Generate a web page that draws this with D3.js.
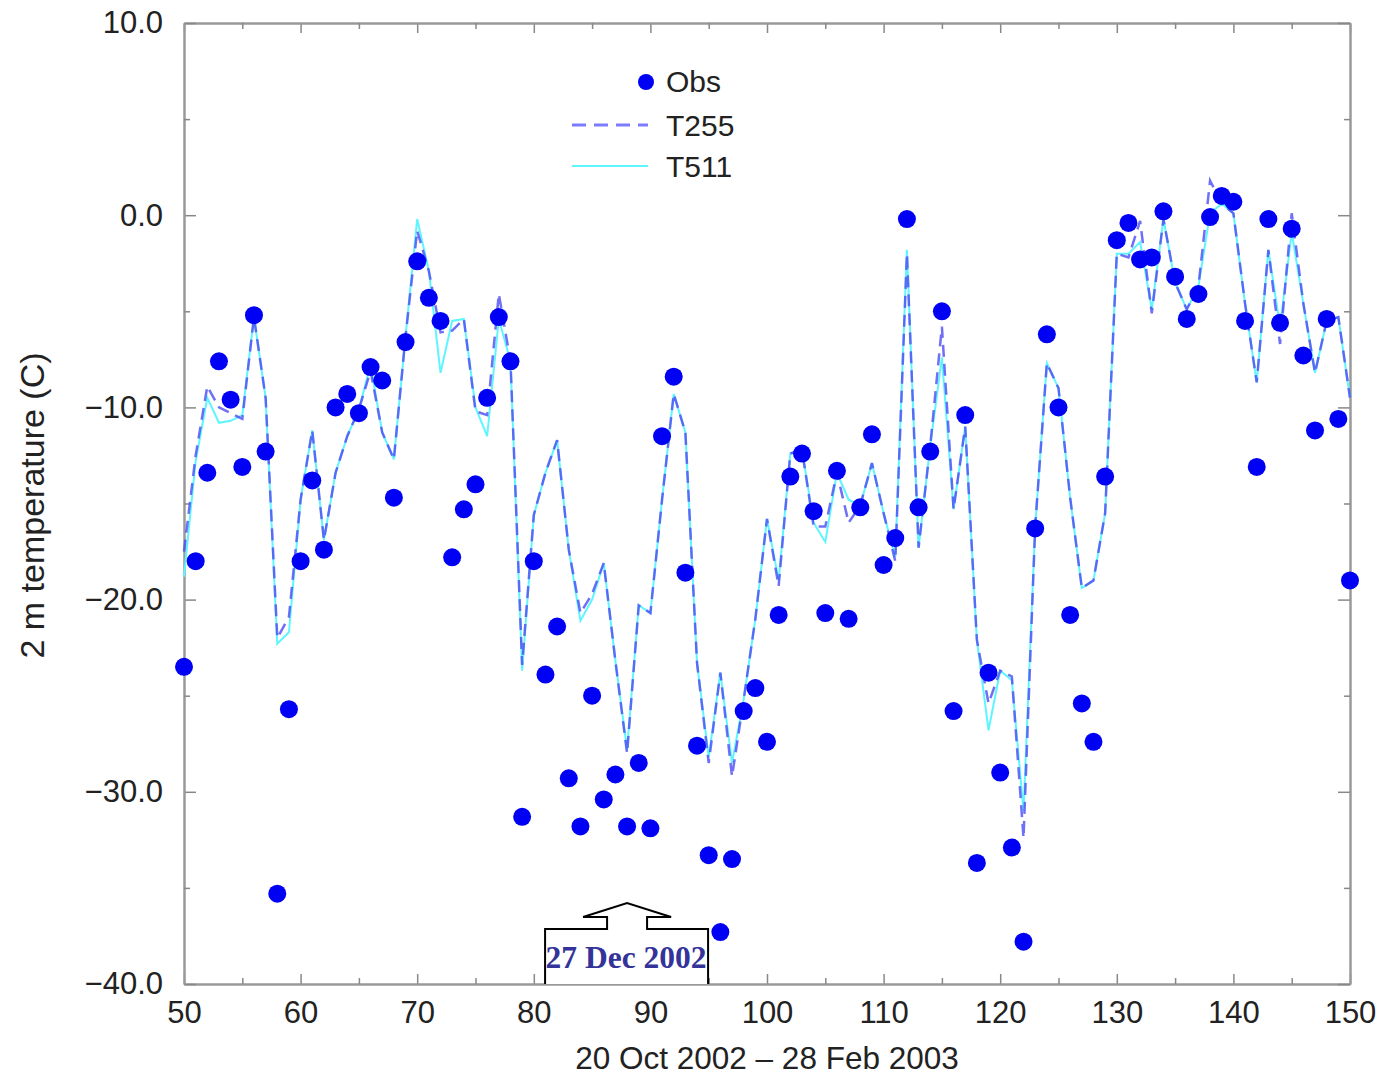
<!DOCTYPE html>
<html>
<head>
<meta charset="utf-8">
<script src="https://cdn.jsdelivr.net/npm/d3@7"></script>
<style>
  body { margin: 0; background: #fff; }
  svg { display: block; }
  .tick text { font-family: "Liberation Sans", Arial, sans-serif; }
</style>
</head>
<body>
<svg id="chart" width="1380" height="1077"></svg>
<script>
// day index (x axis), 20 Oct 2002 - 28 Feb 2003
const days = d3.range(50, 151);

const obs = [
  -23.5, -18.0, -13.4, -7.6, -9.6, -13.1, -5.2, -12.3, -35.3, -25.7,
  -18.0, -13.8, -17.4, -10.0, -9.3, -10.3, -7.9, -8.6, -14.7, -6.6,
  -2.4, -4.3, -5.5, -17.8, -15.3, -14.0, -9.5, -5.3, -7.6, -31.3,
  -18.0, -23.9, -21.4, -29.3, -31.8, -25.0, -30.4, -29.1, -31.8, -28.5,
  -31.9, -11.5, -8.4, -18.6, -27.6, -33.3, -37.3, -33.5, -25.8, -24.6,
  -27.4, -20.8, -13.6, -12.4, -15.4, -20.7, -13.3, -21.0, -15.2, -11.4,
  -18.2, -16.8, -0.2, -15.2, -12.3, -5.0, -25.8, -10.4, -33.7, -23.8,
  -29.0, -32.9, -37.8, -16.3, -6.2, -10.0, -20.8, -25.4, -27.4, -13.6,
  -1.3, -0.4, -2.3, -2.2, 0.2, -3.2, -5.4, -4.1, -0.1, 1.0,
  0.7, -5.5, -13.1, -0.2, -5.6, -0.7, -7.3, -11.2, -5.4, -10.6,
  -19.0
];

const t255 = [
  -17.5, -12.5, -8.9, -10.0, -10.3, -10.6, -5.3, -9.5, -22.0, -20.9,
  -14.8, -11.2, -16.9, -13.4, -11.5, -10.1, -8.1, -11.3, -12.7, -6.3,
  -0.8, -2.9, -6.1, -6.0, -5.4, -10.2, -10.4, -4.1, -7.6, -23.4,
  -15.6, -13.4, -11.7, -17.4, -20.7, -19.7, -18.1, -23.2, -28.0, -20.3,
  -20.7, -14.8, -9.3, -11.3, -23.3, -28.5, -23.8, -29.2, -25.2, -21.0,
  -15.8, -19.3, -12.4, -12.2, -16.2, -16.2, -13.4, -16.0, -15.1, -12.9,
  -15.5, -18.0, -2.0, -17.3, -12.0, -5.8, -15.3, -11.0, -22.1, -25.4,
  -23.7, -24.0, -32.4, -16.2, -7.7, -9.0, -14.7, -19.4, -19.0, -15.5,
  -2.0, -2.2, -0.3, -5.1, -0.2, -3.5, -4.9, -3.7, 1.8, 0.6,
  0.1, -4.6, -8.7, -1.8, -6.7, 0.1, -4.6, -8.2, -5.5, -5.3,
  -9.5
];

const t511 = [
  -18.8, -12.8, -9.5, -10.8, -10.7, -10.4, -5.3, -9.5, -22.3, -21.7,
  -14.8, -11.2, -16.9, -13.4, -11.5, -10.1, -7.8, -11.3, -12.7, -6.3,
  -0.2, -2.9, -8.2, -5.5, -5.4, -10.0, -11.5, -5.4, -7.6, -23.7,
  -15.6, -13.4, -11.7, -17.4, -21.1, -20.0, -18.1, -23.2, -27.8, -20.3,
  -20.7, -14.8, -9.3, -11.3, -23.3, -28.2, -23.8, -28.5, -25.2, -21.0,
  -15.8, -19.0, -12.4, -12.2, -16.0, -17.0, -13.4, -14.8, -15.1, -12.9,
  -15.5, -17.8, -1.8, -17.3, -12.0, -7.4, -15.3, -11.0, -22.1, -26.8,
  -23.7, -24.2, -31.0, -16.2, -7.7, -9.0, -14.7, -19.4, -19.0, -15.5,
  -2.0, -2.0, -1.4, -4.9, -0.2, -3.5, -4.9, -3.7, 0.1, 0.6,
  0.1, -4.6, -8.7, -1.8, -5.8, -0.9, -4.6, -8.2, -5.5, -5.3,
  -9.5
];

const xTicks = d3.range(50, 151, 10);
const yTicks = d3.range(-40, 11, 10);

const svg = d3.select("#chart");
const margin = { left: 184, right: 30, top: 23, bottom: 93 };
const W = 1380, H = 1077;

const x = d3.scaleLinear().domain([50, 150]).range([margin.left, W - margin.right]);
const y = d3.scaleLinear().domain([-40, 10]).range([H - margin.bottom, margin.top]);

const axisColor = "#999";
const fmt = d => d3.format(".1f")(d).replace("-", "\u2212");

function styleAxis(g) {
  g.select(".domain").attr("stroke", axisColor).attr("stroke-width", 2);
  g.selectAll(".tick line").attr("stroke", "#888").attr("stroke-width", 1.5);
  g.selectAll(".tick text").attr("fill", "#222").attr("font-size", 31);
}

// bottom + top
svg.append("g").attr("transform", `translate(0,${y(-40)})`)
  .call(d3.axisBottom(x).tickValues(xTicks).tickSizeInner(-10).tickSizeOuter(0).tickPadding(17).tickFormat(d3.format("d")))
  .call(styleAxis);
svg.append("g").attr("transform", `translate(0,${y(-40)})`)
  .call(d3.axisBottom(x).tickValues(d3.range(55, 150, 10)).tickSizeInner(-6).tickSizeOuter(0).tickFormat(""))
  .call(styleAxis);
svg.append("g").attr("transform", `translate(0,${y(10)})`)
  .call(d3.axisTop(x).tickValues(xTicks).tickSizeInner(-10).tickSizeOuter(0).tickFormat(""))
  .call(styleAxis);
svg.append("g").attr("transform", `translate(0,${y(10)})`)
  .call(d3.axisTop(x).tickValues(d3.range(55, 150, 10)).tickSizeInner(-6).tickSizeOuter(0).tickFormat(""))
  .call(styleAxis);

// left + right
svg.append("g").attr("transform", `translate(${x(50)},0)`)
  .call(d3.axisLeft(y).tickValues(yTicks).tickSizeInner(-12).tickSizeOuter(0).tickPadding(21).tickFormat(fmt))
  .call(styleAxis);
svg.append("g").attr("transform", `translate(${x(50)},0)`)
  .call(d3.axisLeft(y).tickValues(d3.range(-35, 10, 10)).tickSizeInner(-6).tickSizeOuter(0).tickFormat(""))
  .call(styleAxis);
svg.append("g").attr("transform", `translate(${x(150)},0)`)
  .call(d3.axisRight(y).tickValues(yTicks).tickSizeInner(-12).tickSizeOuter(0).tickFormat(""))
  .call(styleAxis);
svg.append("g").attr("transform", `translate(${x(150)},0)`)
  .call(d3.axisRight(y).tickValues(d3.range(-35, 10, 10)).tickSizeInner(-6).tickSizeOuter(0).tickFormat(""))
  .call(styleAxis);

// axis titles
svg.append("text")
  .attr("x", (x(50) + x(150)) / 2).attr("y", 1069)
  .attr("text-anchor", "middle")
  .attr("font-family", "Liberation Sans, Arial, sans-serif")
  .attr("font-size", 31.5).attr("fill", "#222")
  .text("20 Oct 2002 \u2013 28 Feb 2003");
svg.append("text")
  .attr("transform", `translate(44,${(y(-40) + y(10)) / 2 + 2}) rotate(-90)`)
  .attr("text-anchor", "middle")
  .attr("font-family", "Liberation Sans, Arial, sans-serif")
  .attr("font-size", 34).attr("fill", "#222")
  .text("2 m temperature (C)");

// model lines
const line = d3.line().x((d, i) => x(days[i])).y(d => y(d));
svg.append("path").datum(t511)
  .attr("d", line).attr("fill", "none")
  .attr("stroke", "#5ff5ff").attr("stroke-width", 2);
svg.append("path").datum(t255)
  .attr("d", line).attr("fill", "none")
  .attr("stroke", "#4b4bf5").attr("stroke-opacity", 0.8)
  .attr("stroke-width", 2.5).attr("stroke-dasharray", "12,7");

// observations
svg.append("g").selectAll("circle")
  .data(obs)
  .join("circle")
  .attr("cx", (d, i) => x(days[i]))
  .attr("cy", d => y(d))
  .attr("r", 9)
  .attr("fill", "#0000f5");

// legend
const lg = svg.append("g").attr("font-family", "Liberation Sans, Arial, sans-serif")
  .attr("font-size", 30).attr("fill", "#222");
lg.append("circle").attr("cx", 646).attr("cy", 82).attr("r", 8).attr("fill", "#0000f5");
lg.append("text").attr("x", 666).attr("y", 92).text("Obs");
lg.append("line").attr("x1", 572).attr("x2", 648).attr("y1", 125).attr("y2", 125)
  .attr("stroke", "#5a5aff").attr("stroke-opacity", 0.8).attr("stroke-width", 3).attr("stroke-dasharray", "14,8");
lg.append("text").attr("x", 666).attr("y", 136).text("T255");
lg.append("line").attr("x1", 572).attr("x2", 648).attr("y1", 166).attr("y2", 166)
  .attr("stroke", "#5ff5ff").attr("stroke-width", 2);
lg.append("text").attr("x", 666).attr("y", 177).text("T511");

// annotation arrow box
const ax = x(88);
const base = y(-40);
const boxTop = base - 55;
const ann = svg.append("g");
ann.append("path")
  .attr("d", `M${ax - 82},${base} L${ax - 82},${boxTop} L${ax - 20},${boxTop} L${ax - 20},${boxTop - 12}
    L${ax - 44},${boxTop - 12} L${ax},${boxTop - 26} L${ax + 44},${boxTop - 12} L${ax + 20},${boxTop - 12}
    L${ax + 20},${boxTop} L${ax + 81},${boxTop} L${ax + 81},${base}`)
  .attr("fill", "#fff").attr("stroke", "#000").attr("stroke-width", 2);
ann.append("text")
  .attr("x", ax - 1).attr("y", base - 16)
  .attr("text-anchor", "middle")
  .attr("font-family", "Liberation Serif, Times New Roman, serif")
  .attr("font-weight", "bold").attr("font-size", 31.5)
  .attr("fill", "#333399")
  .text("27 Dec 2002");
</script>
</body>
</html>
